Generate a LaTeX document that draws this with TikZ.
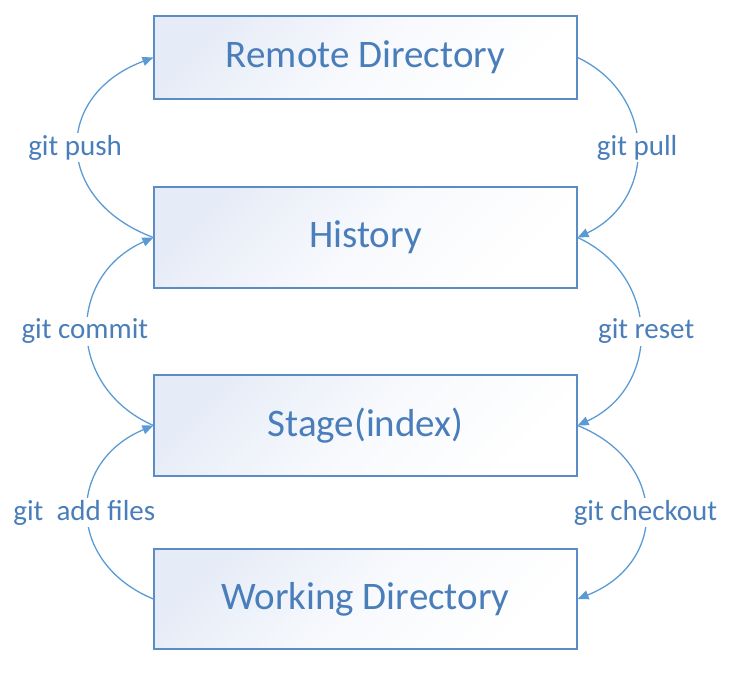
\documentclass[tikz,border=0pt]{standalone}
\usepackage{fontspec}
\setmainfont{Carlito}
\usetikzlibrary{arrows.meta}
\definecolor{txt}{HTML}{4A7EBB}
\definecolor{bord}{HTML}{5B8CC6}
\definecolor{arr}{HTML}{5B9BD5}
\definecolor{shadec}{HTML}{E6ECF7}
\begin{document}
\begin{tikzpicture}[x=1pt,y=-1pt,
  box/.style={draw=bord, line width=1.2pt, top color=shadec, bottom color=white, middle color=white!70!shadec, shading angle=45,
    minimum width=423pt, text=txt, font=\fontsize{39}{44}\selectfont, inner sep=0pt},
  lbl/.style={fill=white, text=txt, font=\fontsize{29}{34}\selectfont, inner sep=2pt},
  conn/.style={draw=arr, line width=1.3pt, -{Triangle[length=11pt,width=9pt]}}]
\useasboundingbox (0,0) rectangle (743,698);
\node[box, minimum height=83pt]  (remote)  at (365.5,57.5)  {Remote Directory};
\node[box, minimum height=101pt] (history) at (365.5,237.5) {History};
\node[box, minimum height=101pt] (stage)   at (365.5,425.5) {Stage(index)};
\node[box, minimum height=100pt] (working) at (365.5,599)   {Working Directory};
% left side
\draw[conn] (history.west) .. controls (53,200) and (53,95) .. node[lbl, midway, xshift=-3pt] {git push} (remote.west);
\draw[conn] (stage.west) .. controls (66,387) and (66,276) .. node[lbl, midway, xshift=-3pt] {git commit} (history.west);
\draw[conn] (working.west) .. controls (66,563) and (66,462) .. node[lbl, midway, xshift=-3.5pt] {git\ \ add files} (stage.west);
% right side
\draw[conn] (remote.east) .. controls (657,95) and (657,200) .. node[lbl, midway] {git pull} (history.east);
\draw[conn] (history.east) .. controls (661,276) and (661,387) .. node[lbl, midway, xshift=6pt] {git reset} (stage.east);
\draw[conn] (stage.east) .. controls (668,462) and (668,563) .. node[lbl, midway] {git checkout} (working.east);
\end{tikzpicture}
\end{document}
